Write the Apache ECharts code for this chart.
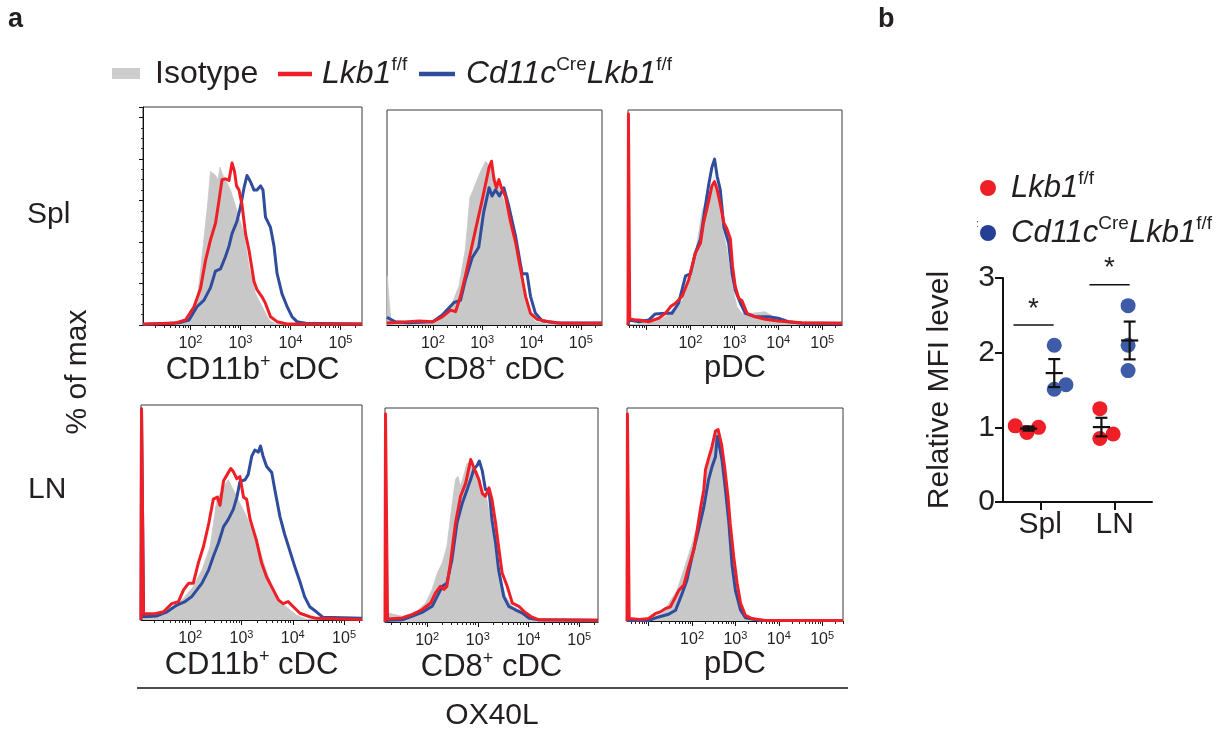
<!DOCTYPE html>
<html><head><meta charset="utf-8">
<script src="https://cdn.jsdelivr.net/npm/echarts@6/dist/echarts.min.js"></script>
<style>html,body{margin:0;padding:0;background:#fff}#c{width:1224px;height:740px}</style>
</head><body><div id="c"></div><script>
const FONT = 'Liberation Sans, Arial, Helvetica, sans-serif';
const INK = '#231f20';
const RED = '#ee1f26', BLUE = '#2f4d9c', GRAY = '#c8c8c8';

// ---- panel a: histograms; x = log10(OX40L intensity), y = % of max ----
const splCd11bIso = [[1.05,0],[1.7,0.5],[1.87,1.6],[2.0,4],[2.13,12],[2.21,28],[2.28,44],[2.35,60],[2.4,74],[2.44,74.5],[2.5,72],[2.55,70],[2.59,76],[2.63,73],[2.7,70],[2.8,65],[2.93,55],[3.07,44],[3.17,28],[3.3,15],[3.43,9],[3.57,2.4],[3.7,0.5],[3.9,0],[5.43,0]];
const splCd11bLkb = [[1.05,0.5],[1.67,0.8],[1.9,2.4],[2.07,8.8],[2.2,17.6],[2.3,31],[2.4,41],[2.5,49],[2.57,60],[2.63,70],[2.7,70.4],[2.77,69.6],[2.83,78],[2.88,74],[2.92,67],[2.97,65],[3.03,58],[3.1,44],[3.17,36],[3.27,21],[3.33,17],[3.43,13.6],[3.5,10.4],[3.6,4],[3.73,1.6],[3.93,0.5],[5.43,0.5]];
const splCd11bCre = [[1.05,0.3],[1.77,1.1],[1.97,2.4],[2.13,8.8],[2.27,12],[2.4,18],[2.5,26],[2.6,27],[2.7,33],[2.77,38],[2.83,44],[2.93,50],[3.0,57],[3.07,66],[3.13,72],[3.2,69],[3.27,65],[3.33,65],[3.4,67],[3.45,65],[3.5,52],[3.6,47],[3.67,38],[3.73,25],[3.83,15],[3.93,9],[4.03,4],[4.13,1.6],[4.3,0.8],[5.43,0.5]];

const splCd8Iso = [[1.07,0],[1.075,24],[1.12,10],[1.15,2],[1.5,1.6],[2.0,1.5],[2.19,5.5],[2.39,10.6],[2.53,19],[2.66,37],[2.75,62],[2.85,68],[2.95,74],[3.07,80],[3.17,77],[3.3,70],[3.45,60],[3.6,45],[3.72,32],[3.81,19],[3.95,5.7],[4.08,1.6],[4.3,0.5],[5.43,0]];
const splCd8Lkb = [[1.07,1],[1.5,1.6],[1.72,2],[2.0,1.6],[2.19,4],[2.36,7.3],[2.46,6.5],[2.56,14],[2.66,24],[2.76,35],[2.86,46],[3.0,61],[3.07,69],[3.14,77],[3.19,80],[3.24,71],[3.29,67],[3.34,71],[3.39,67],[3.47,63],[3.57,51],[3.68,40],[3.78,27],[3.88,14],[3.98,5.7],[4.11,2.8],[4.35,1.6],[4.6,0.8],[5.43,0.8]];
const splCd8Cre = [[1.07,3.7],[1.24,1.6],[1.5,1.1],[2.0,1.6],[2.19,4.9],[2.43,11],[2.56,12],[2.66,22],[2.8,33],[2.93,38],[3.03,55],[3.14,67],[3.2,63],[3.27,66],[3.35,63],[3.44,67],[3.54,58],[3.68,43],[3.81,25],[3.91,25],[3.98,14],[4.08,5.7],[4.22,2],[4.5,1.1],[5.43,1]];

const splPdcIso = [[0.58,0],[1.2,1.6],[1.43,4],[1.81,12],[2.04,25],[2.27,56],[2.42,64],[2.53,69],[2.64,61],[2.72,48],[2.83,37],[2.95,19],[3.06,9],[3.17,5.7],[3.4,5.7],[3.7,6.5],[3.89,4],[4.08,1.6],[4.45,0.5],[5.45,0]];
const splPdcLkb = [[0.58,0],[0.59,103],[0.62,3],[0.75,2.4],[0.83,2.4],[1.05,1.6],[1.28,3.3],[1.43,5.7],[1.55,9],[1.66,10.6],[1.81,14],[1.96,22],[2.11,35],[2.23,40],[2.3,50],[2.42,61],[2.49,68],[2.55,70],[2.61,66],[2.68,59],[2.76,50],[2.83,47],[2.91,42],[2.96,28.5],[3.02,19],[3.1,13],[3.17,12],[3.29,5.7],[3.48,4],[3.7,2.8],[4.0,2],[4.23,1.6],[4.54,1.1],[5.45,0.8]];
const splPdcCre = [[0.58,0],[0.6,2.4],[0.83,1.6],[1.05,2.4],[1.2,5.4],[1.43,5.7],[1.58,5.7],[1.73,10.6],[1.89,24],[2.0,25],[2.11,35],[2.23,42],[2.34,58],[2.42,69],[2.49,77],[2.55,81],[2.61,72.5],[2.68,66],[2.76,48],[2.87,40],[2.95,25],[3.02,17],[3.14,10.6],[3.25,5.7],[3.48,4],[3.78,4],[4.0,3.3],[4.23,1.6],[4.54,0.8],[5.45,0.8]];

const lnCd11bIso = [[1.04,0],[1.2,1.6],[1.48,3.3],[1.68,5.7],[1.87,10.6],[2.06,16.3],[2.23,24.5],[2.39,36],[2.52,59],[2.65,65],[2.74,68.5],[2.84,63.6],[2.97,57],[3.1,50.5],[3.23,42],[3.33,36],[3.46,26],[3.59,16.3],[3.75,9],[3.94,5],[4.07,2.4],[4.27,0.3],[5.35,0]];
const lnCd11bLkb = [[1.04,0],[1.05,103],[1.09,3],[1.29,3],[1.48,4],[1.64,8],[1.77,9],[1.87,14.7],[1.97,18],[2.06,18],[2.16,28],[2.26,36],[2.36,47],[2.45,59],[2.53,60],[2.58,56],[2.65,68],[2.72,71],[2.79,74],[2.84,72.5],[2.91,69],[2.97,70],[3.04,60],[3.1,59],[3.17,49],[3.29,39],[3.39,28],[3.49,21],[3.62,14.7],[3.72,9.8],[3.81,8],[3.91,9],[4.01,6.5],[4.14,3.3],[4.33,1.6],[4.46,0.8],[5.35,0.3]];
const lnCd11bCre = [[1.04,0],[1.05,103],[1.09,1.6],[1.35,2],[1.55,4],[1.74,7.3],[1.9,9],[2.03,11.4],[2.13,14.7],[2.23,18],[2.36,24.5],[2.45,31],[2.55,37.5],[2.65,45.6],[2.74,49],[2.84,54],[2.91,60],[2.97,67.6],[3.07,68.5],[3.13,71],[3.2,80],[3.26,83],[3.33,82],[3.37,85],[3.42,80],[3.49,75],[3.59,72],[3.65,63.6],[3.75,50.5],[3.84,42],[3.94,34],[4.04,26],[4.14,18.7],[4.23,11.4],[4.33,6.5],[4.46,4],[4.59,1.3],[5.35,0.8]];

const lnCd8Iso = [[1.17,0],[1.18,4.4],[1.24,4.4],[1.51,2.8],[1.77,4.7],[1.97,9.3],[2.1,16],[2.2,24],[2.3,29],[2.39,37],[2.49,57],[2.56,70],[2.61,71.5],[2.66,66.6],[2.7,70],[2.79,78],[2.89,76.4],[2.99,74],[3.09,65],[3.18,60],[3.25,50],[3.35,35.5],[3.45,20.8],[3.55,12.6],[3.68,7.7],[3.88,5.2],[4.04,2.8],[4.27,0.3],[5.37,0]];
const lnCd8Lkb = [[1.17,0],[1.18,102],[1.22,1.5],[1.51,2],[1.7,3.6],[1.9,6],[2.07,9.3],[2.16,14],[2.26,17.5],[2.33,16],[2.39,17.5],[2.46,29],[2.56,48.6],[2.66,61.7],[2.76,68],[2.86,79.7],[2.95,74],[3.02,70],[3.09,63],[3.15,61.7],[3.22,65.8],[3.28,60],[3.35,48.6],[3.41,37],[3.48,24],[3.58,17.5],[3.68,9.3],[3.81,7.7],[3.91,5.2],[4.04,2.8],[4.2,1.1],[5.37,0.8]];
const lnCd8Cre = [[1.17,0],[1.22,0.8],[1.51,1.1],[1.7,2.8],[1.9,4.7],[2.1,7.7],[2.2,12.6],[2.3,17.5],[2.39,19],[2.49,30.6],[2.59,48.6],[2.69,58],[2.79,65],[2.86,70],[2.92,74.8],[2.99,77],[3.03,79],[3.09,74],[3.15,65],[3.22,65],[3.28,50],[3.35,38.8],[3.41,25.7],[3.51,12.6],[3.61,7.7],[3.74,6],[3.88,4.4],[4.0,2],[4.2,1.1],[5.37,0.8]];

const lnPdcIso = [[0.5,0],[1.0,1.2],[1.31,3.6],[1.46,8.6],[1.65,15],[1.85,28],[2.0,38],[2.15,50],[2.27,64.7],[2.38,78],[2.5,91],[2.58,94.4],[2.65,89],[2.73,78],[2.81,61],[2.88,45],[2.96,28],[3.04,15],[3.15,5.3],[3.31,1.2],[3.69,0],[5.48,0]];
const lnPdcLkb = [[0.5,0],[0.51,102],[0.55,1.2],[0.8,0.7],[1.0,1.2],[1.15,3.6],[1.27,4.5],[1.38,6.1],[1.5,7],[1.62,11.9],[1.69,15],[1.81,17.7],[1.92,26.7],[2.04,35],[2.12,45],[2.19,54.8],[2.27,64.7],[2.31,74.6],[2.38,80],[2.46,86],[2.54,93.6],[2.6,94.4],[2.68,87],[2.75,76],[2.83,61],[2.88,48],[2.96,31.7],[3.04,18.5],[3.12,8.6],[3.23,2.8],[3.38,1.2],[3.69,0.3],[5.48,0.3]];
const lnPdcCre = [[0.5,0],[0.55,0.3],[1.0,0.3],[1.23,2],[1.46,3.3],[1.62,5.3],[1.77,13.5],[1.88,20],[2.0,31.7],[2.15,45],[2.27,56],[2.38,69.6],[2.46,76],[2.54,81],[2.58,91],[2.63,86],[2.69,79.5],[2.77,64.7],[2.85,48],[2.92,28],[3.0,15],[3.12,5.3],[3.23,1.6],[3.54,0.3],[5.48,0.3]];

const decadeLabels = [2, 3, 4, 5];

// ---- panel b: relative MFI ----
const mfiCats = ['Spl', 'LN'];
const mfiLkb = [[1.02, 0.93, 1.0], [1.25, 0.85, 0.91]];
const mfiCre = [[2.1, 1.51, 1.57], [2.63, 2.1, 1.76]];
const jitterLkb = [[-0.336, -0.179, -0.022], [-0.2, -0.2, -0.022]];
const jitterCre = [[0.188, 0.188, 0.345], [0.179, 0.179, 0.179]];
const groupOffset = { lkb: [-0.157, -0.179], cre: [0.188, 0.2] };
const sigBars = [[-0.36, 0.18, 2.37, -0.09], [-0.34, 0.2, 2.91, -0.07]];

const panels = [
  { grid: { left: 143, top: 107, width: 219, height: 218 }, xr: [1.05, 5.43], title: '{t|CD11b}{p|+}{t| cDC}', iso: splCd11bIso, lkb: splCd11bLkb, cre: splCd11bCre, yTicks: true },
  { grid: { left: 387, top: 110, width: 215, height: 215 }, xr: [1.07, 5.43], title: '{t|CD8}{p|+}{t| cDC}', iso: splCd8Iso, lkb: splCd8Lkb, cre: splCd8Cre },
  { grid: { left: 628, top: 110, width: 214, height: 215 }, xr: [0.58, 5.45], title: '{t|pDC}', iso: splPdcIso, lkb: splPdcLkb, cre: splPdcCre },
  { grid: { left: 141, top: 405, width: 221, height: 215 }, xr: [1.04, 5.35], title: '{t|CD11b}{p|+}{t| cDC}', iso: lnCd11bIso, lkb: lnCd11bLkb, cre: lnCd11bCre },
  { grid: { left: 385, top: 408, width: 213, height: 214 }, xr: [1.17, 5.37], title: '{t|CD8}{p|+}{t| cDC}', iso: lnCd8Iso, lkb: lnCd8Lkb, cre: lnCd8Cre },
  { grid: { left: 627, top: 408, width: 216, height: 213 }, xr: [0.5, 5.48], title: '{t|pDC}', iso: lnPdcIso, lkb: lnPdcLkb, cre: lnPdcCre }
];

function decades(r) { const a = []; for (let n = Math.ceil(r[0]); n <= r[1]; n++) a.push(n); return a; }
function minors(r) {
  const a = [];
  for (let n = Math.floor(r[0]); n <= r[1]; n++)
    for (let k = 2; k < 10; k++) { const v = n + Math.log10(k); if (v > r[0] && v < r[1]) a.push(v); }
  return a;
}

const grids = [], xAxes = [], yAxes = [], series = [];
panels.forEach((p, i) => {
  grids.push(Object.assign({ show: true, borderColor: '#3a3a3a', borderWidth: 1, backgroundColor: 'transparent' }, p.grid));
  xAxes.push({
    gridIndex: i, type: 'value', min: p.xr[0], max: p.xr[1], position: 'bottom',
    axisLine: { lineStyle: { color: '#111', width: 1.2 } },
    axisTick: { customValues: decades(p.xr), length: 5, lineStyle: { color: '#111', width: 1 } },
    axisLabel: {
      customValues: decadeLabels, margin: 9, color: INK,
      formatter: v => '{m|10}{s|' + v + '}',
      rich: { m: { fontSize: 16, fontFamily: FONT, color: INK, lineHeight: 20 }, s: { fontSize: 11, fontFamily: FONT, color: INK, verticalAlign: 'top' } }
    },
    splitLine: { show: false },
    name: p.title, nameLocation: 'middle', nameGap: 24,
    nameTextStyle: { rich: { t: { fontSize: 31, fontFamily: FONT, color: INK, lineHeight: 36 }, p: { fontSize: 18, fontFamily: FONT, color: INK, verticalAlign: 'top' } } }
  });
  yAxes.push({
    gridIndex: i, type: 'value', min: 0, max: 105, interval: 20, show: !!p.yTicks,
    axisLine: { show: true, lineStyle: { color: '#111', width: 1 } },
    axisTick: { show: true, length: 4, lineStyle: { color: '#111' } },
    minorTick: { show: true, splitNumber: 4, length: 2, lineStyle: { color: '#333' } },
    axisLabel: { show: false }, splitLine: { show: false }, minorSplitLine: { show: false }
  });
  series.push({ type: 'line', xAxisIndex: i, yAxisIndex: i, data: p.iso, symbol: 'none', silent: true, z: 1,
    lineStyle: { width: 0.8, color: GRAY }, areaStyle: { color: GRAY, opacity: 1 } });
  series.push({ type: 'line', xAxisIndex: i, yAxisIndex: i, data: p.cre, symbol: 'none', silent: true, z: 3,
    lineStyle: { width: 3, color: BLUE, join: 'round' } });
  series.push({ type: 'line', xAxisIndex: i, yAxisIndex: i, data: p.lkb, symbol: 'none', silent: true, z: 4,
    lineStyle: { width: 3, color: RED, join: 'round' } });
});
// minor log ticks
panels.forEach((p, i) => {
  xAxes.push({
    gridIndex: i, type: 'value', min: p.xr[0], max: p.xr[1], position: 'bottom',
    axisLine: { show: false }, axisLabel: { show: false }, splitLine: { show: false },
    axisTick: { customValues: minors(p.xr), length: 3, lineStyle: { color: '#222', width: 1 } }
  });
});

// ---- panel b grid ----
const gb = panels.length;
grids.push({ left: 1003, top: 278, width: 149, height: 224 });
const xbIndex = xAxes.length;
xAxes.push({
  gridIndex: gb, type: 'value', min: 0, max: 2,
  axisLine: { lineStyle: { color: '#111', width: 2 } },
  axisTick: { customValues: [0.5, 1.5], length: 8, lineStyle: { color: '#111', width: 2 } },
  axisLabel: { customValues: [0.5, 1.5], formatter: v => mfiCats[Math.floor(v)], fontSize: 30, fontFamily: FONT, color: INK, margin: 8 },
  splitLine: { show: false }
});
yAxes.push({
  gridIndex: gb, type: 'value', min: 0, max: 3, interval: 1,
  axisLine: { show: true, lineStyle: { color: '#111', width: 2 } },
  axisTick: { show: true, length: 8, lineStyle: { color: '#111', width: 2 } },
  axisLabel: { fontSize: 30, fontFamily: FONT, color: INK, margin: 8 },
  splitLine: { show: false },
  name: 'Relative MFI level', nameLocation: 'middle', nameGap: 48, nameRotate: 90,
  nameTextStyle: { fontSize: 30, fontFamily: FONT, color: INK }
});
function pts(vals, jit) { const a = []; vals.forEach((g, c) => g.forEach((v, j) => a.push([c + 0.5 + jit[c][j], v]))); return a; }
series.push({ type: 'scatter', xAxisIndex: xbIndex, yAxisIndex: gb, data: pts(mfiLkb, jitterLkb), symbolSize: 15, itemStyle: { color: RED, opacity: 1 }, z: 2, silent: true });
series.push({ type: 'scatter', xAxisIndex: xbIndex, yAxisIndex: gb, data: pts(mfiCre, jitterCre), symbolSize: 15, itemStyle: { color: '#3e5ba8', opacity: 1 }, z: 2, silent: true });
function stats(vals, offs) {
  return vals.map((g, c) => {
    const m = g.reduce((a, b) => a + b, 0) / g.length;
    const sd = Math.sqrt(g.reduce((a, b) => a + (b - m) * (b - m), 0) / (g.length - 1));
    return [c + 0.5 + offs[c], m, sd / Math.sqrt(g.length)];
  });
}
series.push({
  type: 'custom', xAxisIndex: xbIndex, yAxisIndex: gb, z: 5, silent: true,
  data: stats(mfiLkb, groupOffset.lkb).concat(stats(mfiCre, groupOffset.cre)),
  renderItem: (params, api) => {
    const x = api.value(0), m = api.value(1), s = api.value(2);
    const pm = api.coord([x, m]), pt = api.coord([x, m + s]), pb = api.coord([x, m - s]);
    const hw = api.size([0.115, 0])[0], cw = api.size([0.08, 0])[0];
    const st = { stroke: '#111', lineWidth: 2.2 };
    return { type: 'group', children: [
      { type: 'line', shape: { x1: pm[0] - hw, y1: pm[1], x2: pm[0] + hw, y2: pm[1] }, style: st },
      { type: 'line', shape: { x1: pm[0], y1: pt[1], x2: pm[0], y2: pb[1] }, style: st },
      { type: 'line', shape: { x1: pm[0] - cw, y1: pt[1], x2: pm[0] + cw, y2: pt[1] }, style: st },
      { type: 'line', shape: { x1: pm[0] - cw, y1: pb[1], x2: pm[0] + cw, y2: pb[1] }, style: st }
    ] };
  }
});
series.push({
  type: 'custom', xAxisIndex: xbIndex, yAxisIndex: gb, z: 5, silent: true,
  data: sigBars.map((b, c) => [c + 0.5 + b[0], c + 0.5 + b[1], b[2], c + 0.5 + b[3]]),
  renderItem: (params, api) => {
    const a = api.coord([api.value(0), api.value(2)]), b = api.coord([api.value(1), api.value(2)]);
    const s = api.coord([api.value(3), api.value(2)]);
    return { type: 'group', children: [
      { type: 'line', shape: { x1: a[0], y1: a[1], x2: b[0], y2: b[1] }, style: { stroke: '#111', lineWidth: 1.6 } },
      { type: 'text', style: { text: '*', x: s[0], y: a[1] - 2, align: 'center', verticalAlign: 'bottom', fontSize: 28, fontFamily: FONT, fill: INK } }
    ] };
  }
});

// ---- text / legends ----
const supRich = (size) => ({
  i: { fontSize: size, fontStyle: 'italic', fontFamily: FONT, fill: INK, color: INK, lineHeight: size + 6 },
  n: { fontSize: size, fontFamily: FONT, fill: INK, color: INK, lineHeight: size + 6 },
  s: { fontSize: Math.round(size * 0.6), fontFamily: FONT, fill: INK, color: INK, verticalAlign: 'top' }
});
const T = (text, x, y, opts) => Object.assign({ type: 'text', x: x, y: y, style: Object.assign({ text: text, fontFamily: FONT, fill: INK, fontSize: 30 }, opts || {}) });
const graphic = [
  T('a', 8, 6, { fontSize: 27, fontWeight: 'bold' }),
  T('b', 878, 6, { fontSize: 27, fontWeight: 'bold' }),
  { type: 'rect', shape: { x: 112, y: 68, width: 28, height: 11 }, style: { fill: '#cdcdcd' } },
  T('Isotype', 155, 74, { fontSize: 32, verticalAlign: 'middle' }),
  { type: 'line', shape: { x1: 278, y1: 74, x2: 312, y2: 74 }, style: { stroke: RED, lineWidth: 4.5 } },
  { type: 'text', x: 322, y: 74, style: { text: '{i|Lkb1}{s|f/f}', rich: supRich(32), verticalAlign: 'middle' } },
  { type: 'line', shape: { x1: 419, y1: 74, x2: 455, y2: 74 }, style: { stroke: BLUE, lineWidth: 4.5 } },
  { type: 'text', x: 466, y: 74, style: { text: '{i|Cd11c}{s|Cre}{i|Lkb1}{s|f/f}', rich: supRich(32), verticalAlign: 'middle' } },
  T('Spl', 27, 215, { verticalAlign: 'middle' }),
  T('LN', 28, 490, { verticalAlign: 'middle' }),
  { type: 'text', x: 78, y: 372, rotation: Math.PI / 2, style: { text: '% of max', fontFamily: FONT, fill: INK, fontSize: 30, align: 'center', verticalAlign: 'middle' } },
  { type: 'line', shape: { x1: 137, y1: 688, x2: 848, y2: 688 }, style: { stroke: '#111', lineWidth: 1.5 } },
  T('OX40L', 492, 716, { align: 'center', verticalAlign: 'middle' }),
  { type: 'circle', shape: { cx: 988, cy: 188, r: 8 }, style: { fill: RED } },
  { type: 'circle', shape: { cx: 988, cy: 233, r: 8 }, style: { fill: '#243f94' } },
  T(':', 976, 224, { fontSize: 11, verticalAlign: 'middle', fill: '#555' }),
  { type: 'text', x: 1011, y: 188, style: { text: '{i|Lkb1}{s|f/f}', rich: supRich(31), verticalAlign: 'middle' } },
  { type: 'text', x: 1011, y: 233, style: { text: '{i|Cd11c}{s|Cre}{i|Lkb1}{s|f/f}', rich: supRich(31), verticalAlign: 'middle' } }
];

const chart = echarts.init(document.getElementById('c'), null, { renderer: 'canvas' });
chart.setOption({
  animation: false, backgroundColor: '#fff',
  grid: grids, xAxis: xAxes, yAxis: yAxes, series: series, graphic: graphic
});
</script></body></html>
